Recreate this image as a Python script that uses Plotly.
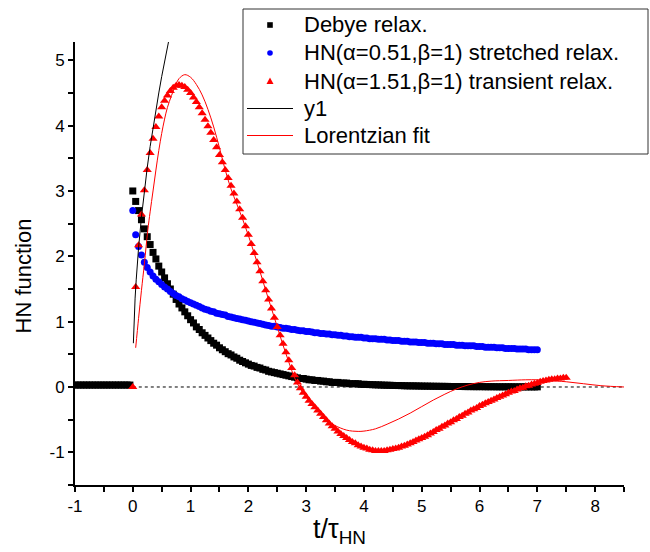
import plotly.graph_objects as go

# ---- data -------------------------------------------------------------------------
T_NEG = [-1.00, -0.95, -0.90, -0.85, -0.80, -0.75, -0.70, -0.65, -0.60, -0.55,
         -0.50, -0.45, -0.40, -0.35, -0.30, -0.25, -0.20, -0.15, -0.10, -0.05]
DEBYE_NEG = [0.03, 0.03, 0.03, 0.03, 0.03, 0.03, 0.03, 0.03, 0.03, 0.03,
             0.03, 0.03, 0.03, 0.03, 0.03, 0.03, 0.03, 0.03, 0.03, 0.03]

T = [0.00, 0.05, 0.10, 0.15, 0.20, 0.25, 0.30, 0.35, 0.40, 0.45, 0.50, 0.55, 0.60, 0.65, 0.70, 0.75, 0.80, 0.85, 0.90, 0.95,
     1.00, 1.05, 1.10, 1.15, 1.20, 1.25, 1.30, 1.35, 1.40, 1.45, 1.50, 1.55, 1.60, 1.65, 1.70, 1.75, 1.80, 1.85, 1.90, 1.95,
     2.00, 2.05, 2.10, 2.15, 2.20, 2.25, 2.30, 2.35, 2.40, 2.45, 2.50, 2.55, 2.60, 2.65, 2.70, 2.75, 2.80, 2.85, 2.90, 2.95,
     3.00, 3.05, 3.10, 3.15, 3.20, 3.25, 3.30, 3.35, 3.40, 3.45, 3.50, 3.55, 3.60, 3.65, 3.70, 3.75, 3.80, 3.85, 3.90, 3.95,
     4.00, 4.05, 4.10, 4.15, 4.20, 4.25, 4.30, 4.35, 4.40, 4.45, 4.50, 4.55, 4.60, 4.65, 4.70, 4.75, 4.80, 4.85, 4.90, 4.95,
     5.00, 5.05, 5.10, 5.15, 5.20, 5.25, 5.30, 5.35, 5.40, 5.45, 5.50, 5.55, 5.60, 5.65, 5.70, 5.75, 5.80, 5.85, 5.90, 5.95,
     6.00, 6.05, 6.10, 6.15, 6.20, 6.25, 6.30, 6.35, 6.40, 6.45, 6.50, 6.55, 6.60, 6.65, 6.70, 6.75, 6.80, 6.85, 6.90, 6.95,
     7.00, 7.05, 7.10, 7.15, 7.20, 7.25, 7.30, 7.35, 7.40, 7.45, 7.50]

DEBYE = [3.00, 2.84, 2.70, 2.56, 2.42, 2.30, 2.18, 2.06, 1.96, 1.85, 1.76, 1.67, 1.58, 1.50, 1.42, 1.34, 1.27, 1.21, 1.15, 1.09,
         1.03, 0.98, 0.92, 0.88, 0.83, 0.79, 0.75, 0.71, 0.67, 0.64, 0.60, 0.57, 0.54, 0.51, 0.49, 0.46, 0.44, 0.41, 0.39, 0.37,
         0.35, 0.33, 0.32, 0.30, 0.29, 0.27, 0.26, 0.24, 0.23, 0.22, 0.21, 0.20, 0.19, 0.18, 0.17, 0.16, 0.15, 0.14, 0.13, 0.13,
         0.12, 0.11, 0.11, 0.10, 0.10, 0.09, 0.09, 0.08, 0.08, 0.07, 0.07, 0.07, 0.06, 0.06, 0.06, 0.05, 0.05, 0.05, 0.05, 0.04,
         0.041, 0.039, 0.037, 0.035, 0.033, 0.032, 0.030, 0.028, 0.027, 0.026, 0.024, 0.023, 0.022, 0.021, 0.019, 0.018, 0.017, 0.017, 0.016, 0.015,
         0.014, 0.013, 0.013, 0.012, 0.011, 0.011, 0.010, 0.010, 0.009, 0.009, 0.008, 0.008, 0.007, 0.007, 0.007, 0.006, 0.006, 0.006, 0.005, 0.005,
         0.005, 0.005, 0.004, 0.004, 0.004, 0.004, 0.003, 0.003, 0.003, 0.003, 0.003, 0.003, 0.002, 0.002, 0.002, 0.002, 0.002, 0.002, 0.002, 0.002,
         0.002]

HN_STRETCHED = [2.70, 2.33, 2.15, 2.02, 1.91, 1.83, 1.76, 1.70, 1.65, 1.61, 1.57, 1.53, 1.50, 1.46, 1.43, 1.40, 1.38, 1.35, 1.33, 1.31,
                1.29, 1.27, 1.25, 1.23, 1.21, 1.19, 1.18, 1.16, 1.15, 1.13, 1.12, 1.11, 1.10, 1.08, 1.07, 1.06, 1.05, 1.04, 1.03, 1.02,
                1.01, 1.00, 0.99, 0.98, 0.97, 0.96, 0.95, 0.94, 0.93, 0.93, 0.92, 0.91, 0.90, 0.90, 0.89, 0.88, 0.88, 0.87, 0.86, 0.86,
                0.85, 0.85, 0.84, 0.83, 0.83, 0.82, 0.82, 0.81, 0.81, 0.80, 0.80, 0.79, 0.79, 0.78, 0.78, 0.77, 0.77, 0.76, 0.76, 0.76,
                0.75, 0.75, 0.74, 0.74, 0.74, 0.73, 0.73, 0.73, 0.72, 0.72, 0.71, 0.71, 0.71, 0.70, 0.70, 0.70, 0.69, 0.69, 0.69, 0.68,
                0.68, 0.68, 0.67, 0.67, 0.67, 0.66, 0.66, 0.66, 0.65, 0.65, 0.65, 0.65, 0.64, 0.64, 0.64, 0.63, 0.63, 0.63, 0.63, 0.62,
                0.62, 0.62, 0.61, 0.61, 0.61, 0.61, 0.60, 0.60, 0.60, 0.59, 0.59, 0.59, 0.59, 0.58, 0.58, 0.58, 0.58, 0.57, 0.57, 0.57,
                0.57]

HN_TRANSIENT = [0.00, 1.53, 2.17, 2.64, 3.01, 3.32, 3.58, 3.80, 3.98, 4.14, 4.28, 4.38, 4.46, 4.53, 4.58, 4.61, 4.62, 4.61, 4.59, 4.55,
                4.50, 4.43, 4.36, 4.28, 4.19, 4.09, 3.99, 3.89, 3.78, 3.67, 3.55, 3.44, 3.32, 3.20, 3.08, 2.96, 2.84, 2.72, 2.59, 2.46,
                2.33, 2.19, 2.05, 1.91, 1.77, 1.62, 1.48, 1.34, 1.20, 1.06, 0.92, 0.79, 0.66, 0.53, 0.41, 0.29, 0.18, 0.07, -0.02, -0.09,
                -0.15, -0.21, -0.26, -0.31, -0.36, -0.41, -0.46, -0.51, -0.56, -0.60, -0.64, -0.68, -0.72, -0.75, -0.78, -0.81, -0.84, -0.86, -0.89, -0.91,
                -0.93, -0.94, -0.96, -0.97, -0.98, -0.98, -0.98, -0.98, -0.97, -0.96, -0.95, -0.94, -0.93, -0.91, -0.90, -0.88, -0.86, -0.84, -0.82, -0.80,
                -0.78, -0.76, -0.74, -0.71, -0.69, -0.66, -0.64, -0.61, -0.59, -0.56, -0.54, -0.51, -0.49, -0.46, -0.44, -0.41, -0.39, -0.36, -0.34, -0.32,
                -0.29, -0.27, -0.25, -0.23, -0.21, -0.19, -0.17, -0.15, -0.13, -0.11, -0.09, -0.07, -0.06, -0.04, -0.02, -0.01, 0.01, 0.02, 0.04, 0.05,
                0.06, 0.08, 0.09, 0.10, 0.11, 0.12, 0.12, 0.13, 0.13, 0.14, 0.14]

Y1_T = [0.01, 0.02, 0.04, 0.06, 0.08, 0.10, 0.15, 0.20, 0.25, 0.30, 0.35, 0.40, 0.45, 0.50, 0.55, 0.60, 0.62]
Y1_V = [0.67, 0.96, 1.36, 1.65, 1.92, 2.13, 2.60, 3.00, 3.36, 3.68, 3.97, 4.25, 4.50, 4.75, 4.98, 5.20, 5.29]

LOR_T = [0.05, 0.10, 0.15, 0.20, 0.26, 0.30, 0.35, 0.40, 0.45, 0.50, 0.55, 0.60, 0.67, 0.75, 0.80, 0.90, 1.00, 1.10, 1.20, 1.30,
         1.40, 1.50, 1.60, 1.70, 1.80, 1.90, 2.00, 2.10, 2.20, 2.30, 2.40, 2.50, 2.60, 2.70, 2.80, 2.90, 3.00, 3.10, 3.20, 3.30,
         3.40, 3.50, 3.60, 3.70, 3.80, 3.90, 4.00, 4.20, 4.40, 4.60, 4.80, 5.00, 5.20, 5.40, 5.60, 5.80, 6.00, 6.20, 6.50, 6.80,
         7.00, 7.20, 7.50, 7.80, 8.10, 8.50]
LOR_V = [0.60, 1.05, 1.48, 1.88, 2.40, 2.68, 3.00, 3.32, 3.62, 3.88, 4.10, 4.28, 4.46, 4.64, 4.72, 4.78, 4.74, 4.63, 4.47, 4.25,
         3.98, 3.66, 3.32, 3.03, 2.80, 2.57, 2.32, 2.05, 1.77, 1.48, 1.20, 0.92, 0.64, 0.38, 0.14, -0.03, -0.15, -0.26, -0.36, -0.45,
         -0.53, -0.59, -0.63, -0.66, -0.675, -0.68, -0.675, -0.64, -0.57, -0.49, -0.40, -0.30, -0.20, -0.11, -0.03, 0.03, 0.07, 0.09, 0.10, 0.11,
         0.11, 0.10, 0.08, 0.05, 0.02, 0.00]

ZERO_T = [0.0, 8.5]
ZERO_V = [0.0, 0.0]

X_TICKS = [-1, 0, 1, 2, 3, 4, 5, 6, 7, 8]
X_TICKTEXT = ["-1", "0", "1", "2", "3", "4", "5", "6", "7", "8"]
Y_TICKS = [-1, 0, 1, 2, 3, 4, 5]
Y_TICKTEXT = ["-1", "0", "1", "2", "3", "4", "5"]

LEGEND_NAMES = ["Debye relax.",
                "HN(\u03b1=0.51,\u03b2=1) stretched relax.",
                "HN(\u03b1=1.51,\u03b2=1) transient relax.",
                "y1",
                "Lorentzian fit"]

FONT = "Liberation Sans, Arial, sans-serif"
W, H = 650, 552
ML, MR, MT, MB = 75, 26, 42, 67
PW, PH = W - ML - MR, H - MT - MB


def px(x):  # pixel -> paper x (layout placement only)
    return (x - ML) / PW


def py(y):  # pixel -> paper y (layout placement only)
    return 1 - (y - MT) / PH


fig = go.Figure()

fig.add_trace(go.Scatter(x=ZERO_T, y=ZERO_V, mode="lines", showlegend=False,
                         line=dict(color="black", width=1, dash="dot"), hoverinfo="skip"))
fig.add_trace(go.Scatter(x=T_NEG + T[:len(DEBYE)], y=DEBYE_NEG + DEBYE, mode="markers",
                         name=LEGEND_NAMES[0], showlegend=False,
                         marker=dict(symbol="square", size=7, color="black", line=dict(width=0))))
fig.add_trace(go.Scatter(x=T[:len(HN_STRETCHED)], y=HN_STRETCHED, mode="markers",
                         name=LEGEND_NAMES[1], showlegend=False,
                         marker=dict(symbol="circle", size=7, color="#0000FF", line=dict(width=0))))
fig.add_trace(go.Scatter(x=T[:len(HN_TRANSIENT)], y=HN_TRANSIENT, mode="markers",
                         name=LEGEND_NAMES[2], showlegend=False,
                         marker=dict(symbol="triangle-up", size=8, color="#FF0000", line=dict(width=0))))
fig.add_trace(go.Scatter(x=Y1_T, y=Y1_V, mode="lines", name=LEGEND_NAMES[3], showlegend=False,
                         line=dict(color="black", width=1)))
fig.add_trace(go.Scatter(x=LOR_T, y=LOR_V, mode="lines", name=LEGEND_NAMES[4], showlegend=False,
                         line=dict(color="#FF0000", width=1, shape="spline")))

# ---- legend box (drawn by hand to match the reference's spacing) ----
LEG_L, LEG_R, LEG_T, LEG_B = 243, 648, 9, 154
ROW_Y = [25, 53, 81, 108.5, 135.5]
SYM_X = 270
TEXT_X = 302
shapes = [dict(type="rect", xref="paper", yref="paper", x0=px(LEG_L), x1=px(LEG_R), y0=py(LEG_B), y1=py(LEG_T),
               line=dict(color="#333333", width=1), fillcolor="white", layer="above")]
s = 2.8
shapes.append(dict(type="rect", xref="paper", yref="paper", x0=px(SYM_X - s), x1=px(SYM_X + s),
                   y0=py(ROW_Y[0] + s), y1=py(ROW_Y[0] - s), fillcolor="black", line=dict(width=0), layer="above"))
shapes.append(dict(type="circle", xref="paper", yref="paper", x0=px(SYM_X - s), x1=px(SYM_X + s),
                   y0=py(ROW_Y[1] + s), y1=py(ROW_Y[1] - s), fillcolor="#0000FF", line=dict(width=0), layer="above"))
tri = "M {:.5f},{:.5f} L {:.5f},{:.5f} L {:.5f},{:.5f} Z".format(
    px(SYM_X - 3.5), py(ROW_Y[2] + 3), px(SYM_X + 3.5), py(ROW_Y[2] + 3), px(SYM_X), py(ROW_Y[2] - 3.5))
shapes.append(dict(type="path", xref="paper", yref="paper", path=tri, fillcolor="#FF0000",
                   line=dict(width=0), layer="above"))
shapes.append(dict(type="line", xref="paper", yref="paper", x0=px(247), x1=px(293), y0=py(ROW_Y[3]), y1=py(ROW_Y[3]),
                   line=dict(color="black", width=1), layer="above"))
shapes.append(dict(type="line", xref="paper", yref="paper", x0=px(247), x1=px(293), y0=py(ROW_Y[4]), y1=py(ROW_Y[4]),
                   line=dict(color="#FF0000", width=1), layer="above"))

annotations = []
for name, yy in zip(LEGEND_NAMES, ROW_Y):
    annotations.append(dict(text=name, xref="paper", yref="paper", x=px(TEXT_X), y=py(yy),
                            xanchor="left", yanchor="middle", showarrow=False,
                            font=dict(family=FONT, size=22, color="black")))

# axis titles
annotations.append(dict(text="HN function", xref="paper", yref="paper", x=px(22.5), y=py(276),
                        xanchor="center", yanchor="middle", textangle=-90, showarrow=False,
                        font=dict(family=FONT, size=22, color="black")))
annotations.append(dict(text="t/\u03c4<sub>HN</sub>", xref="paper", yref="paper", x=px(311), y=py(531),
                        xanchor="left", yanchor="middle", showarrow=False,
                        font=dict(family=FONT, size=27, color="black")))

axis_common = dict(showline=True, linecolor="black", linewidth=2, ticks="outside",
                   ticklen=5, tickwidth=1.5, tickcolor="black", showgrid=False, zeroline=False,
                   tickfont=dict(family=FONT, size=17, color="black"), mirror=False)

fig.update_layout(
    width=W, height=H,
    margin=dict(l=ML, r=MR, t=MT, b=MB),
    paper_bgcolor="white", plot_bgcolor="white",
    font=dict(family=FONT, color="black"),
    showlegend=False,
    xaxis=dict(range=[-1, 8.5], tickmode="array", tickvals=X_TICKS, ticktext=X_TICKTEXT,
               minor=dict(tickmode="linear", tick0=-1, dtick=0.5, ticks="outside", ticklen=5,
                          tickwidth=1.5, tickcolor="black"),
               **axis_common),
    yaxis=dict(range=[-1.5, 5.28], tickmode="array", tickvals=Y_TICKS, ticktext=Y_TICKTEXT,
               minor=dict(tickmode="linear", tick0=-1.5, dtick=0.5, ticks="outside", ticklen=5,
                          tickwidth=1.5, tickcolor="black"),
               **axis_common),
    shapes=shapes,
    annotations=annotations,
)

fig.write_html("out.html")
